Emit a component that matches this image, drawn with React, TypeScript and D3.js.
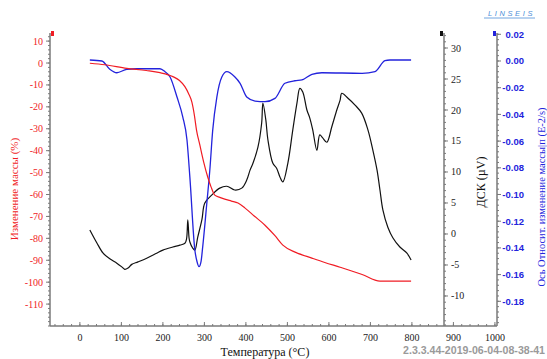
import React from "react";
import * as d3 from "d3";

const W = 547;
const H = 359;

// Mass change (%) vs temperature
const massT = [24, 60, 113, 160, 193, 224, 240, 253, 262, 270, 276, 281, 289, 298, 308, 316, 325, 337, 349, 365, 381, 398, 420, 446, 470, 489, 520, 559, 590, 627, 680, 723, 760, 798];
const massV = [-0.1, -0.8, -2.4, -3.4, -4.4, -6.2, -8, -10.8, -14, -18, -24, -30.6, -37.4, -45, -52, -56.5, -60.3, -61.3, -62.1, -63, -63.9, -66.2, -69.8, -74, -78.8, -83.1, -86.4, -89, -91, -93.2, -96.5, -99.5, -99.5, -99.5];

// Relative mass change rate (E-2/s)
const rateT = [24, 53, 72, 89, 113, 137, 193, 205, 217, 234, 248, 258, 265, 277, 282, 287, 292, 296, 306, 313, 320, 330, 342, 354, 373, 386, 402, 422, 446, 470, 494, 518, 535, 559, 583, 680, 711, 735, 747, 798];
const rateV = [0.00075, 0, -0.0062, -0.0088, -0.0062, -0.0058, -0.0058, -0.008, -0.0118, -0.027, -0.042, -0.059, -0.087, -0.1416, -0.15, -0.154, -0.15, -0.139, -0.106, -0.082, -0.052, -0.027, -0.012, -0.008, -0.0118, -0.0167, -0.027, -0.03, -0.0305, -0.028, -0.0167, -0.0148, -0.0142, -0.01, -0.0088, -0.0092, -0.008, 0.0002, 0.00075, 0.00075];

// DSC (µV)
const dscT = [24, 41, 56, 72, 89, 101, 108, 116, 125, 140, 161, 185, 200, 224, 241, 253, 257, 260, 263, 265, 272, 277, 284, 294, 301, 318, 337, 354, 373, 390, 402, 410, 417, 429, 438, 441, 448, 453, 465, 474, 482, 489, 501, 513, 523, 530, 537, 547, 554, 561, 571, 578, 585, 595, 607, 619, 627, 631, 646, 663, 679, 694, 706, 716, 723, 730, 742, 754, 771, 788, 798];
const dscV = [0.65, -1.45, -3.1, -4.0, -4.7, -5.3, -5.7, -5.5, -4.9, -4.5, -3.9, -3.1, -2.6, -2.1, -1.8, -1.5, -0.8, 2.3, -0.6, -1.3, -2.3, -2.6, -0.5, 2.3, 5, 6.3, 7.4, 7.7, 7.1, 7.4, 8.7, 10.3, 11.4, 14, 17.9, 21.1, 18.4, 15.2, 11.4, 10.6, 9.2, 8.4, 11.4, 16.8, 21.1, 23.5, 22.9, 20, 18.7, 16.8, 13.5, 16, 15.5, 14.8, 17.3, 20, 21.6, 22.7, 21.9, 20.8, 19.5, 16.8, 13.5, 10.3, 7.1, 3.9, 1.1, -0.6, -2.1, -3.1, -4.2];

const xTicks = [0, 100, 200, 300, 400, 500, 600, 700, 800, 900, 1000];
const massTicks = [10, 0, -10, -20, -30, -40, -50, -60, -70, -80, -90, -100, -110];
const dscTicks = [30, 25, 20, 15, 10, 5, 0, -5, -10];
const rateTicks = [0.02, 0, -0.02, -0.04, -0.06, -0.08, -0.1, -0.12, -0.14, -0.16, -0.18];

const RED = "#f01c24";
const BLUE = "#2323dc";
const AXIS = "#7a7a7a";
const SERIF = "'Liberation Serif', 'DejaVu Serif', serif";
const SANS = "'Liberation Sans', Arial, sans-serif";

export default function App() {
  const top = 33;
  const bottom = 326;
  const xL = 50;
  const xR = 497;
  const xDsc = 444;

  const x = d3.scaleLinear().domain([-72, 1005]).range([xL, xR]);
  const yMass = d3.scaleLinear().domain([-120, 13.7]).range([bottom, top]);
  const yDsc = d3.scaleLinear().domain([-14.84, 32.42]).range([bottom, top]);
  const yRate = d3.scaleLinear().domain([-0.1985, 0.02097]).range([bottom, top]);

  const mk = (ts: number[], vs: number[], ys: d3.ScaleLinear<number, number>) =>
    d3
      .line<number>()
      .x((_, i) => x(ts[i]))
      .y((v) => ys(v))
      .curve(d3.curveMonotoneX)(vs) || "";

  const massPath = mk(massT, massV, yMass);
  const ratePath = mk(rateT, rateV, yRate);
  const dscPath = d3
    .line<number>()
    .x((_, i) => x(dscT[i]))
    .y((v) => yDsc(v))
    .curve(d3.curveCatmullRom.alpha(0.5))(dscV) || "";

  const minorX = d3.range(-60, 1001, 20);
  const minorMass = d3.range(-120, 13, 2);
  const minorDsc = d3.range(-14, 33, 1);
  const minorRate = d3.range(-0.196, 0.021, 0.004);

  return (
    <svg width={W} height={H} style={{ display: "block", position: "absolute", left: 0, top: 0 }}>
      <rect width={W} height={H} fill="#fff" />

      {/* LINSEIS logo */}
      <text x={535} y={16} textAnchor="end" fontFamily={SANS} fontStyle="italic" fontSize={7.5} letterSpacing={2.6} fill="#4f8fd8">
        LINSEIS
      </text>
      <line x1={484} x2={535} y1={18} y2={18} stroke="#4f8fd8" strokeWidth={0.8} />

      {/* bottom axis */}
      <line x1={xL} x2={xR} y1={bottom} y2={bottom} stroke={AXIS} strokeWidth={1.5} />
      {minorX.map((t) => (
        <line key={"mx" + t} x1={x(t)} x2={x(t)} y1={bottom} y2={bottom - 2} stroke={AXIS} strokeWidth={1} />
      ))}
      {xTicks.map((t) => (
        <g key={"xt" + t}>
          <line x1={x(t)} x2={x(t)} y1={bottom} y2={bottom - 4} stroke={AXIS} strokeWidth={1} />
          <text x={x(t)} y={341} textAnchor="middle" fontFamily={SERIF} fontSize={10} fill="#222">
            {t}
          </text>
        </g>
      ))}
      <text x={265} y={356} textAnchor="middle" fontFamily={SERIF} fontSize={12} fill="#111">
        Температура (°C)
      </text>

      {/* left mass axis */}
      <line x1={xL} x2={xL} y1={top} y2={bottom} stroke={AXIS} strokeWidth={1.5} />
      {minorMass.map((t) => (
        <line key={"mm" + t} x1={xL} x2={xL - 2} y1={yMass(t)} y2={yMass(t)} stroke={AXIS} strokeWidth={1} />
      ))}
      {massTicks.map((t) => (
        <g key={"mt" + t}>
          <line x1={xL} x2={xL - 4} y1={yMass(t)} y2={yMass(t)} stroke={AXIS} strokeWidth={1} />
          <text x={43} y={yMass(t) + 3.5} textAnchor="end" fontFamily={SERIF} fontSize={10} fill={RED}>
            {t}
          </text>
        </g>
      ))}
      <rect x={xL + 1} y={top - 2} width={3} height={5} fill={RED} />
      <text
        transform={`translate(18,189) rotate(-90)`}
        textAnchor="middle"
        fontFamily={SERIF}
        fontSize={11}
        fill={RED}
      >
        Изменение массы (%)
      </text>

      {/* DSC axis */}
      <line x1={xDsc} x2={xDsc} y1={top} y2={bottom} stroke={AXIS} strokeWidth={1.5} />
      {minorDsc.map((t) => (
        <line key={"md" + t} x1={xDsc} x2={xDsc + 2} y1={yDsc(t)} y2={yDsc(t)} stroke={AXIS} strokeWidth={1} />
      ))}
      {dscTicks.map((t) => (
        <g key={"dt" + t}>
          <line x1={xDsc} x2={xDsc + 4} y1={yDsc(t)} y2={yDsc(t)} stroke={AXIS} strokeWidth={1} />
          <text x={451} y={yDsc(t) + 3.5} textAnchor="start" fontFamily={SERIF} fontSize={10} fill="#222">
            {t}
          </text>
        </g>
      ))}
      <rect x={xDsc - 4} y={top - 2} width={3} height={5} fill="#111" />
      <text
        transform={`translate(485,182) rotate(-90)`}
        textAnchor="middle"
        fontFamily={SERIF}
        fontSize={12}
        fill="#111"
      >
        ДСК (µV)
      </text>

      {/* rate axis */}
      <line x1={xR} x2={xR} y1={top} y2={bottom} stroke={AXIS} strokeWidth={1.5} />
      {minorRate.map((t, i) => (
        <line key={"mr" + i} x1={xR} x2={xR + 2} y1={yRate(t)} y2={yRate(t)} stroke={AXIS} strokeWidth={1} />
      ))}
      {rateTicks.map((t) => (
        <g key={"rt" + t}>
          <line x1={xR} x2={xR + 4} y1={yRate(t)} y2={yRate(t)} stroke={AXIS} strokeWidth={1} />
          <text x={524} y={yRate(t) + 3.5} textAnchor="end" fontFamily={SANS} fontWeight="bold" fontSize={9.5} fill={BLUE}>
            {d3.format(".2f")(t).replace("−", "-")}
          </text>
        </g>
      ))}
      <rect x={xR - 4} y={top - 2} width={3} height={5} fill={BLUE} />
      <text
        transform={`translate(545,197) rotate(-90)`}
        textAnchor="middle"
        fontFamily={SERIF}
        fontSize={10.5}
        fill={BLUE}
      >
        Ось Относит. изменение массы|п (E-2/s)
      </text>

      {/* curves */}
      <path d={dscPath} fill="none" stroke="#111" strokeWidth={1.2} />
      <path d={ratePath} fill="none" stroke={BLUE} strokeWidth={1.3} />
      <path d={massPath} fill="none" stroke={RED} strokeWidth={1.2} />

      {/* footer */}
      <text x={545} y={354} textAnchor="end" fontFamily={SANS} fontWeight="bold" fontSize={10.6} fill="#9a9a9a">
        2.3.3.44-2019-06-04-08-38-41
      </text>
    </svg>
  );
}
